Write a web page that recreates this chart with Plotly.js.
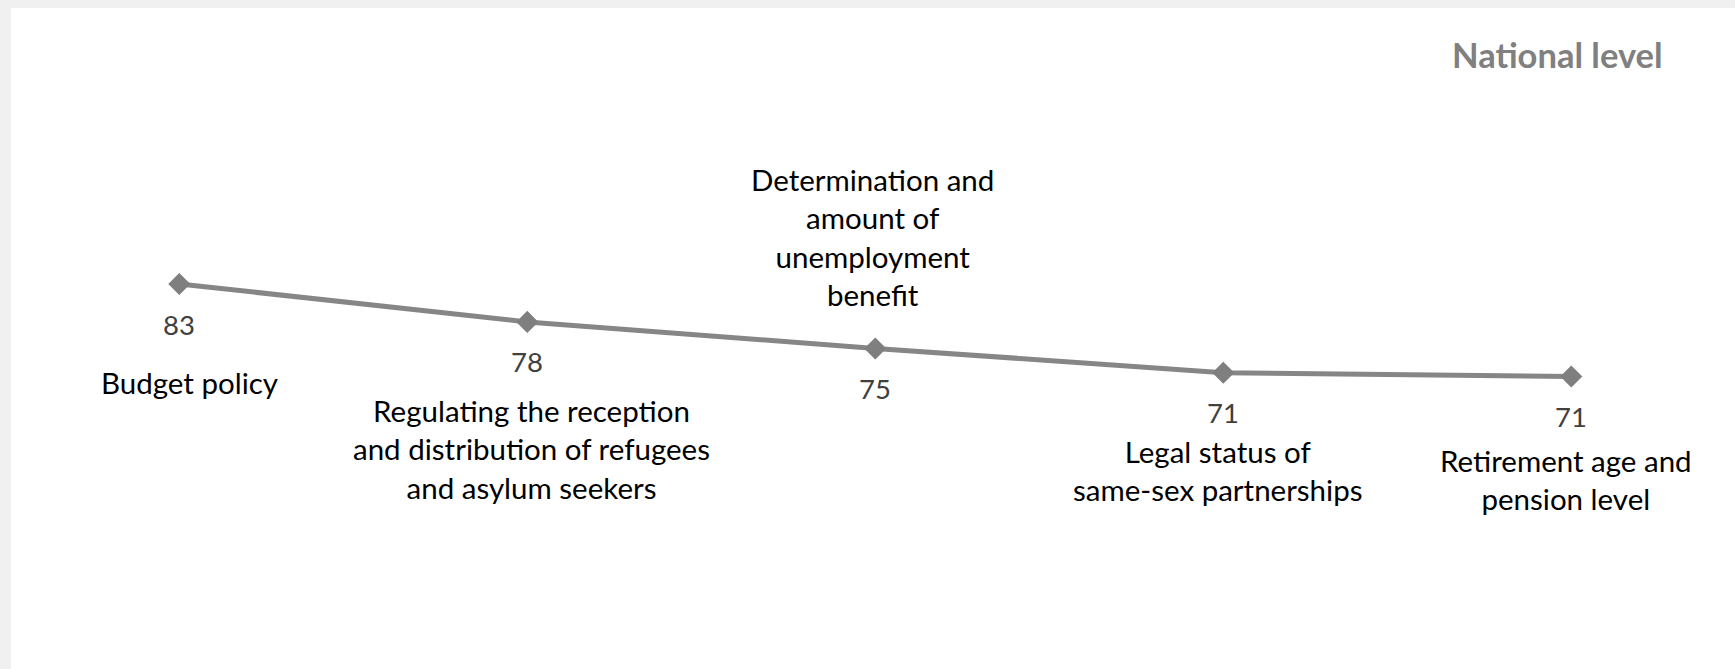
<!DOCTYPE html>
<html>
<head>
<meta charset="utf-8">
<script src="https://cdn.plot.ly/plotly-3.0.1.min.js"></script>
<style>
  html, body { margin: 0; padding: 0; background: #f0f0f0; width: 1735px; height: 669px; overflow: hidden; }
  #chart { position: absolute; left: 11px; top: 8px; width: 1724px; height: 661px; background: #ffffff; }
</style>
</head>
<body>
<div id="chart"></div>
<script>
// Data
const categories = [
  "Budget policy",
  "Regulating the reception<br>and distribution of refugees<br>and asylum seekers",
  "Determination and<br>amount of<br>unemployment<br>benefit",
  "Legal status of<br>same-sex partnerships",
  "Retirement age and<br>pension level"
];
const values = [83, 78, 74.5, 71.3, 70.8];
const valueLabels = ["83", "78", "75", "71", "71"];
const chartTitle = "National level";

// label placement offsets (pixels relative to each marker)
const catOffsets = [
  {dx: 10, dy: -98},
  {dx: 4, dy: -127},
  {dx: -3, dy: 111},
  {dx: -6, dy: -98},
  {dx: -5, dy: -103}
];

const xs = categories.map((c, i) => i);

const trace = {
  x: xs,
  y: values,
  type: 'scatter',
  mode: 'lines+markers',
  line: {color: '#868686', width: 5},
  marker: {symbol: 'diamond', size: 17, color: '#7f7f7f'},
  hoverinfo: 'skip',
  showlegend: false
};

const annotations = [];
values.forEach((v, i) => {
  annotations.push({
    x: i, y: v, xref: 'x', yref: 'y',
    text: valueLabels[i],
    showarrow: false,
    yshift: -40,
    xanchor: 'center', yanchor: 'middle',
    font: {family: 'Lato, sans-serif', size: 27.5, color: '#404040'}
  });
  annotations.push({
    x: i, y: v, xref: 'x', yref: 'y',
    text: categories[i],
    showarrow: false,
    xshift: catOffsets[i].dx,
    yshift: catOffsets[i].dy,
    xanchor: 'center', yanchor: 'middle',
    align: 'center',
    font: {family: 'Lato, sans-serif', size: 29.5, color: '#000000'}
  });
});
annotations.push({
  x: 0.9592, y: 0.9304, xref: 'paper', yref: 'paper',
  text: '<b>' + chartTitle + '</b>',
  showarrow: false,
  xanchor: 'right', yanchor: 'middle',
  font: {family: 'Lato, sans-serif', size: 34.5, color: '#808080'}
});

const layout = {
  width: 1724,
  height: 661,
  margin: {l: 0, r: 0, t: 0, b: 0},
  paper_bgcolor: '#ffffff',
  plot_bgcolor: '#ffffff',
  xaxis: {range: [-0.4836, 4.4705], visible: false, fixedrange: true},
  yaxis: {range: [32.21, 119.41], visible: false, fixedrange: true},
  annotations: annotations
};

Plotly.newPlot('chart', [trace], layout, {staticPlot: true, displayModeBar: false});
</script>
</body>
</html>
